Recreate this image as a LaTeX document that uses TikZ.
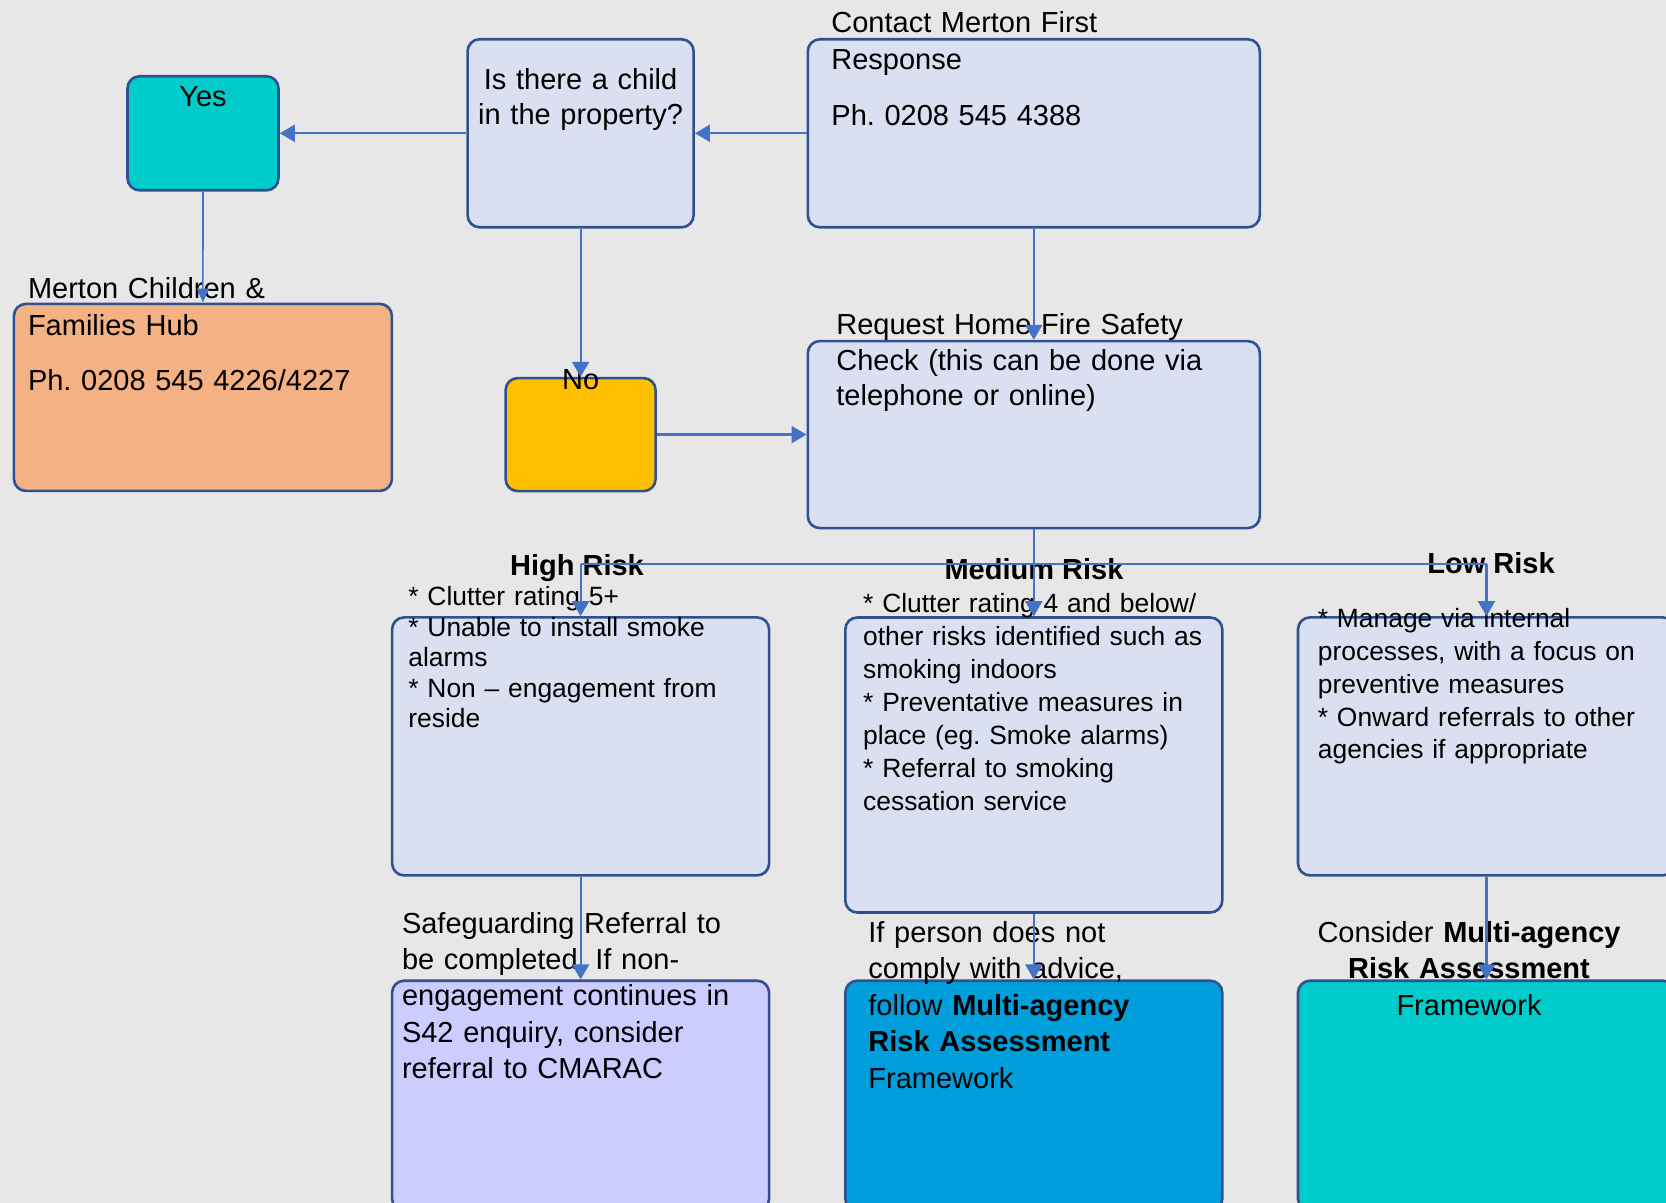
\documentclass[tikz,border=0pt]{standalone}
\usepackage{fontspec}
\setmainfont{Liberation Sans}
\usetikzlibrary{arrows.meta}
\frenchspacing

\definecolor{bgcol}{RGB}{231,231,231}
\definecolor{edgecol}{RGB}{47,82,143}
\definecolor{linkcol}{RGB}{68,114,196}
\definecolor{palecol}{RGB}{218,224,242}
\definecolor{tealcol}{RGB}{0,204,204}
\definecolor{peachcol}{RGB}{244,177,131}
\definecolor{ambercol}{RGB}{255,192,0}
\definecolor{lilaccol}{RGB}{204,204,255}
\definecolor{skycol}{RGB}{0,159,219}

\tikzset{
  box/.style={draw=edgecol, line width=1.3pt, rounded corners=6pt, inner sep=0pt},
  size/.style 2 args={minimum width=#1*0.5pt, minimum height=#2*0.5pt},
  line/.style={draw=linkcol, line width=1.1pt},
  conn/.style={line, -{Triangle[width=8.5pt,length=7.5pt]}},
  slim/.style={draw=linkcol, line width=0.8pt, -{Triangle[width=6pt,length=7pt]}},
  lt/.style={inner sep=0pt, anchor=base west, align=left, text width=200pt},
  ct/.style={inner sep=0pt, anchor=base, align=center, text width=180pt},
  big/.style={font=\fontsize{14.5pt}{#1}\selectfont},
  small/.style={font=\fontsize{13.2pt}{#1}\selectfont},
  head/.style={inner sep=0pt, anchor=base, font=\fontsize{14.5pt}{17pt}\selectfont\bfseries},
}

\begin{document}
\begin{tikzpicture}[x=0.5pt, y=-0.5pt]
\useasboundingbox (0,0) rectangle (1666,1203);
\fill[bgcol] (0,0) rectangle (1666,1203);
\clip (0,0) rectangle (1666,1203);

% boxes
\node[box, fill=tealcol,  size={151}{114}] (yes)     at (203,133.3) {};
\node[box, fill=palecol,  size={226}{188}] (child)   at (580.6,133.3) {};
\node[box, fill=palecol,  size={452}{188}] (contact) at (1033.8,133.3) {};
\node[box, fill=peachcol, size={378}{187}] (hub)     at (202.9,397.4) {};
\node[box, fill=ambercol, size={150}{113}] (no)      at (580.6,434.6) {};
\node[box, fill=palecol,  size={452}{187}] (hfsc)    at (1033.8,434.6) {};
\node[box, fill=palecol,  size={377}{258}] (high)    at (580.6,746.4) {};
\node[box, fill=palecol,  size={377}{295}] (medium)  at (1033.8,765) {};
\node[box, fill=palecol,  size={377}{258}] (low)     at (1486.5,746.4) {};
\node[box, fill=lilaccol, size={377}{230}] (safe)    at (580.6,1095.7) {};
\node[box, fill=skycol,   size={377}{230}] (marf)    at (1033.8,1095.7) {};
\node[box, fill=tealcol,  size={377}{230}] (consider) at (1486.5,1095.7) {};

% texts
\node[ct, big=17.5pt, text width=70pt] (tyes) at (203,107) {Yes};
\node[ct, big=17.5pt, text width=110pt] (tchild) at (580.6,90) {Is there a child\\in the property?};
\node[lt, big=18.5pt] (tcontact) at (831,33) {Contact Merton First\\Response\\[9.2pt]Ph. 0208 545 4388};
\node[lt, big=18.5pt] (thub) at (27.6,298.6) {Merton Children \&\\Families Hub\\[9.2pt]Ph. 0208 545 4226/4227};
\node[ct, big=17.5pt, text width=70pt] (tno) at (580.6,390) {No};
\node[lt, big=17.8pt] (thfsc) at (836,334.7) {Request Home Fire Safety\\Check (this can be done via\\telephone or online)};

\node[head] (hhigh) at (577,575) {High Risk};
\node[head] (hmed) at (1034,580) {Medium Risk};
\node[head] (hlow) at (1491,573.8) {Low Risk};

\node[lt, small=15.25pt] (thigh) at (408,605.6) {{*} Clutter rating 5+\\{*} Unable to install smoke\\alarms\\{*} Non – engagement from\\reside};
\node[lt, small=16.55pt] (tmed) at (862.8,612) {{*} Clutter rating 4 and below/\\other risks identified such as\\smoking indoors\\{*} Preventative measures in\\place (eg. Smoke alarms)\\{*} Referral to smoking\\cessation service};
\node[lt, small=16.5pt] (tlow) at (1317.5,627) {{*} Manage via internal\\processes, with a focus on\\preventive measures\\{*} Onward referrals to other\\agencies if appropriate};

\node[lt, big=18.2pt] (tsafe) at (401.6,933) {Safeguarding Referral to\\be completed. If non-\\engagement continues in\\S42 enquiry, consider\\referral to CMARAC};
\node[lt, big=18.2pt] (tmarf) at (868,942.4) {If person does not\\comply with advice,\\follow \textbf{Multi-agency}\\\textbf{Risk Assessment}\\Framework};
\node[ct, big=18.2pt] (tconsider) at (1469,942.4) {Consider \textbf{Multi-agency}\\\textbf{Risk Assessment}\\Framework};

% connectors
\draw[conn] (contact.west) -- (child.east);
\draw[conn] (child.west) -- (yes.east);
\draw[slim] (yes.south) -- (hub.north);
\draw[conn] (child.south) -- (no.north);
\draw[conn] (contact.south) -- (hfsc.north);
\draw[conn] (no.east) -- (hfsc.west);

\coordinate (split) at (1033.8,564);
\coordinate (hsplit) at (high.north |- split);
\coordinate (lsplit) at (low.north |- split);
\draw[line] (hfsc.south) -- (split);
\draw[line] (hsplit) -- (lsplit);
\draw[conn] (hsplit) -- (high.north);
\draw[conn] (split) -- (medium.north);
\draw[conn] (lsplit) -- (low.north);

\draw[conn] (high.south) -- (safe.north);
\draw[conn] (medium.south) -- (marf.north);
\draw[conn] (low.south) -- (consider.north);
\end{tikzpicture}
\end{document}
